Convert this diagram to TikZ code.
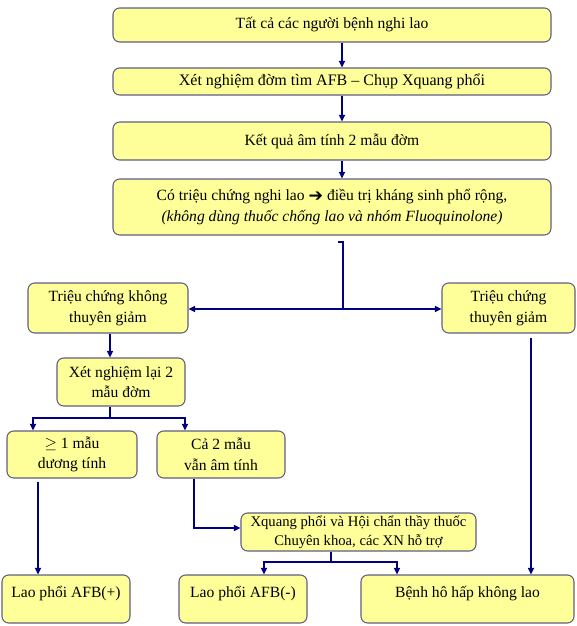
\documentclass[tikz,border=0pt]{standalone}
\usepackage{fontspec}
\setmainfont{Liberation Serif}
\newfontfamily\symfont{DejaVu Sans}
\usetikzlibrary{arrows.meta}
\definecolor{boxfill}{HTML}{FFFF99}
\definecolor{boxline}{HTML}{5F5F80}
\definecolor{navy}{HTML}{000080}
\begin{document}
\begin{tikzpicture}[x=0.75pt,y=-0.75pt,
  box/.style={draw=boxline,fill=boxfill,line width=0.8pt,rounded corners=5pt,align=center,inner sep=0pt,
    font=\fontsize{11.7}{15.5}\selectfont},
  conn/.style={draw=navy,line width=1.5pt},
  arr/.style={conn,-{Triangle[length=5pt,width=4.5pt]}},
  toplab/.style={font=\fontsize{11.7}{15.5}\selectfont,anchor=north,yshift=-5pt}
]
\useasboundingbox (0,0) rectangle (576,626);

\node[box,minimum width=328.5pt,minimum height=25.5pt] (b1) at (332,25) {Tất cả các người bệnh nghi lao};
\node[box,minimum width=328.5pt,minimum height=20.25pt,font=\fontsize{12}{15.5}\selectfont] (b2) at (332,81.5) {Xét nghiệm đờm tìm AFB – Chụp Xquang phổi};
\node[box,minimum width=328.5pt,minimum height=28.5pt] (b3) at (332,141) {Kết quả âm tính 2 mẫu đờm};
\node[box,minimum width=328.5pt,minimum height=42pt] (b4) at (332,207)
  {Có triệu chứng nghi lao {\symfont\fontsize{13}{12}\selectfont\raisebox{-0.3pt}{➔}} điều trị kháng sinh phổ rộng,\\\textit{(không dùng thuốc chống lao và nhóm Fluoquinolone)}};

\node[box,minimum width=120pt,minimum height=37.5pt] (l1) at (108,308) {Triệu chứng không\\thuyên giảm};
\node[box,minimum width=99.75pt,minimum height=37.5pt] (r1) at (508.5,308) {Triệu chứng\\thuyên giảm};
\node[box,minimum width=96pt,minimum height=36pt] (l2) at (121,382) {Xét nghiệm lại 2\\mẫu đờm};
\node[box,minimum width=97.5pt,minimum height=35.25pt] (l3a) at (72,454.5) {$\geq$ 1 mẫu\\dương tính};
\node[box,minimum width=96pt,minimum height=35.25pt] (l3b) at (221,454.5) {Cả 2 mẫu\\vẫn âm tính};
\node[box,minimum width=176.25pt,minimum height=28.5pt,font=\fontsize{11}{14.5}\selectfont] (xq) at (358.5,532) {Xquang phổi và Hội chẩn thầy thuốc\\Chuyên khoa, các XN hỗ trợ};

\node[box,minimum width=96pt,minimum height=36pt] (e1) at (66,599) {};
\node[toplab] (e1t) at (e1.north) {Lao phổi AFB(+)};
\node[box,minimum width=96pt,minimum height=36pt] (e2) at (243,599) {};
\node[toplab] (e2t) at (e2.north) {Lao phổi AFB(-)};
\node[box,minimum width=159.75pt,minimum height=36pt] (e3) at (467.5,599) {};
\node[toplab] (e3t) at (e3.north) {Bệnh hô hấp không lao};

% main column
\draw[arr] (b1.south -| 342,0) -- (b2.north -| 342,0);
\draw[arr] (b2.south -| 342,0) -- (b3.north -| 342,0);
\draw[arr] (b3.south -| 342,0) -- (b4.north -| 342,0);

\coordinate (hk) at (338,242);
\coordinate (sp) at (343,309);
\draw[conn] (hk) -- (343,242) -- (sp);
\draw[arr] (sp) -- (l1.east |- sp);
\draw[arr] (sp) -- (r1.west |- sp);

% left branch
\draw[arr] (l1.south -| 110,0) -- (l2.north -| 110,0);
\coordinate (f1) at (110,418);
\draw[conn] (l2.south -| f1) -- (f1);
\draw[arr] (f1) -| (l3a.north -| 33,0);
\draw[arr] (f1) -| (l3b.north -| 185,0);

\coordinate (a1) at (38,482);
\draw[arr] (a1) -- (e1.north -| a1);

\coordinate (a2) at (194,528);
\draw[arr] (l3b.south -| a2) -- (a2) -- (xq.west |- a2);

\coordinate (f2) at (331,562);
\draw[conn] (xq.south -| f2) -- (f2);
\draw[arr] (f2) -| (e2.north -| 264,0);
\draw[arr] (f2) -| (e3.north -| 397,0);

% right branch
\coordinate (a3) at (531,338);
\draw[arr] (a3) -- (e3.north -| a3);
\end{tikzpicture}
\end{document}
